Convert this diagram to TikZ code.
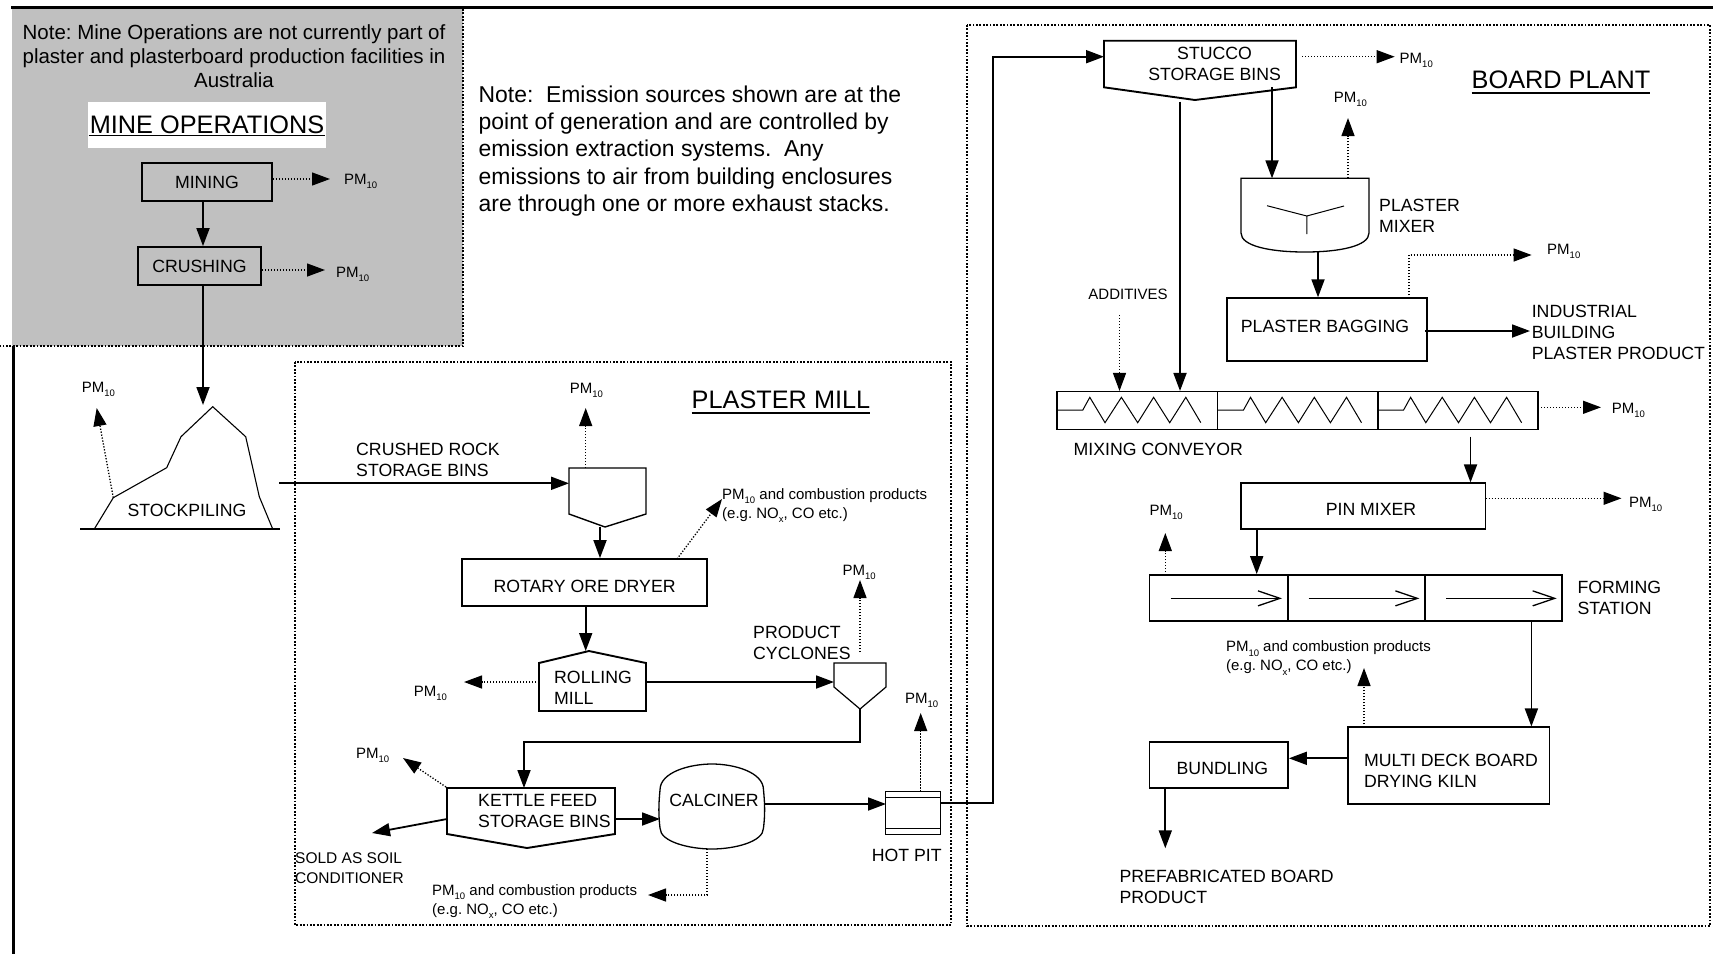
\documentclass[tikz,border=0pt]{standalone}
\usepackage{fontspec}
\setmainfont{Liberation Sans}
\usetikzlibrary{arrows.meta,calc}
\definecolor{mgray}{HTML}{C0C0C0}
\frenchspacing
\newcommand{\fsBox}{\fontsize{17.7}{21}\selectfont}
\newcommand{\fsPM}{\fontsize{15}{18}\selectfont}
\newcommand{\fsSm}{\fontsize{15}{19}\selectfont}
\newcommand{\fsSold}{\fontsize{15.5}{20}\selectfont}
\newcommand{\fsTitle}{\fontsize{25.3}{30}\selectfont}
\newcommand{\fsNoteA}{\fontsize{20.5}{24.2}\selectfont}
\newcommand{\fsNoteB}{\fontsize{22.9}{27.3}\selectfont}
\newcommand{\pmt}{PM\raisebox{-0.28em}{\fontsize{9.5}{9.5}\selectfont 10}}
\newcommand{\nox}{NO\raisebox{-0.28em}{\fontsize{9.5}{9.5}\selectfont x}}
\begin{document}
\begin{tikzpicture}[x=1pt,y=-1pt,
  lbl/.style={inner sep=0pt, font=\fsBox},
  box/.style={draw, line width=1.8pt, inner sep=0pt, font=\fsBox, align=center},
  shp/.style={line width=1.4pt, line join=miter},
  thk/.style={line width=1.9pt, line join=miter},
  arr/.style={line width=1.8pt, -{Triangle[length=18pt,width=13pt]}},
  darr/.style={line width=1.3pt, dash pattern=on 1.3pt off 1.7pt, -{Triangle[length=18pt,width=13pt]}},
  dotframe/.style={line width=1.8pt, dash pattern=on 1.8pt off 1.6pt},
  pm/.style={inner sep=0pt, font=\fsPM, anchor=base west},
  sm/.style={inner sep=0pt, font=\fsSm, align=left, anchor=west},
  barb/.style={line width=1.3pt, -{Straight Barb[length=22pt,width=15pt,line width=1.3pt]}},
]
\useasboundingbox (0,0) rectangle (1713,954);
\fill[white] (0,0) rectangle (1713,954);
% ---------- frames ----------
\fill[mgray] (12,8) rectangle (463,346);
\draw[line width=3pt] (11,7) -- (1713,7);
\draw[line width=3pt] (13,346) -- (13,954);
\draw[dotframe] (463,9) -- (463,346) -- (0,346);
\draw[dotframe] (295,362) rectangle (951,925);
\draw[dotframe] (966.7,25) rectangle (1710,926);

% ---------- mine operations ----------
\node[inner sep=0pt, font=\fsNoteA, align=center] (noteA) at (234,56)
  {Note: Mine Operations are not currently part of\\plaster and plasterboard production facilities in\\Australia};
\node[fill=white, minimum width=238, minimum height=46, inner sep=0pt, font=\fsTitle] (mineT) at (207,125) {MINE OPERATIONS};
\draw[line width=1.6pt] (88.5,135.5) -- (325,135.5);
\node[box, minimum width=130, minimum height=38] (mining) at (207,182) {MINING};
\node[box, minimum width=123, minimum height=38] (crushing) at (199.5,266) {CRUSHING};
\coordinate (cx1) at (203,0);
\draw[arr] (mining.south -| cx1) -- (crushing.north -| cx1);
\coordinate (miT) at (330,179);
\draw[darr] ([yshift=3pt]mining.east) -- (miT);
\node[pm] (pmMin) at (344,184.3) {\pmt};
\coordinate (crT) at (325,270);
\draw[darr] ([yshift=-4pt]crushing.east) -- (crT);
\node[pm] (pmCru) at (336,277.3) {\pmt};

% ---------- note B ----------
\node[inner sep=0pt, font=\fsNoteB, align=left, anchor=north west] (noteB) at (478.5,85.5)
  {Note:\ \ Emission sources shown are at the\\point of generation and are controlled by\\emission extraction systems.\ \ Any\\emissions to air from building enclosures\\are through one or more exhaust stacks.};

% ---------- stockpile ----------
\coordinate (sg1) at (80,529); \coordinate (sg2) at (280,529);
\draw[line width=2pt] (sg1) -- (sg2);
\coordinate (peak) at (212.7,406.7);
\coordinate (spEm) at (113.3,497.7);
\draw[line width=1.1pt] (94.3,529) -- (spEm) -- (166.7,467.7) -- (181,436.7) -- (peak) -- (245.7,436.7) -- (259.3,496.7) -- (272.7,529);
\node[lbl] (stock) at (187,510) {STOCKPILING};
\coordinate (peakIn) at (203,405);
\draw[arr] (crushing.south -| cx1) -- (peakIn);
\coordinate (spT) at (96.7,408);
\draw[darr] (spEm) -- (spT);
\node[pm] (pmStock) at (81.7,392.7) {\pmt};
\coordinate (spOut) at (279,483.3); \coordinate (binIn) at (569,483.3);
\draw[arr] (spOut) -- (binIn);

% ---------- plaster mill ----------
\node[inner sep=0pt, font=\fsTitle] (pmTitle) at (781,400) {PLASTER MILL};
\draw[line width=1.6pt] ([yshift=-4pt]pmTitle.south west) -- ([yshift=-4pt]pmTitle.south east);
% crushed rock bin
\coordinate (bin1) at (569,468); \coordinate (bin2) at (646,468); \coordinate (bin3) at (646,514);
\coordinate (binB) at (605,527); \coordinate (bin4) at (569,514);
\draw[shp] (bin1) -- (bin2) -- (bin3) -- (binB) -- (bin4) -- cycle;
\node[lbl, align=left, anchor=west] (crLbl) at (356,459.5) {CRUSHED ROCK\\STORAGE BINS};
\coordinate (binEm) at (585.7,468); \coordinate (binT) at (585.7,408);
\draw[darr] (binEm) -- (binT);
\node[pm] (pmBin) at (569.7,393) {\pmt};
% dryer
\node[box, minimum width=245, minimum height=47] (dryer) at (584.5,582.5) {};
\node[lbl] (dryTxt) at (584.6,586) {ROTARY ORE DRYER};
\coordinate (cx2) at (600,0);
\draw[arr] (binB -| cx2) -- (dryer.north -| cx2);
\coordinate (dryEm) at (677,559); \coordinate (dryT) at (722,499);
\draw[darr] (dryEm) -- (dryT);
\node[sm] (dryLbl) at (722,505.5) {\pmt{} and combustion products\\(e.g. \nox, CO etc.)};
% rolling mill
\coordinate (rm1) at (539,711); \coordinate (rm2) at (646,711); \coordinate (rm3) at (646,663);
\coordinate (rmTop) at (589,651); \coordinate (rm4) at (539,663);
\draw[thk] (rm1) -- (rm2) -- (rm3) -- (rmTop) -- (rm4) -- cycle;
\node[lbl, align=left, anchor=west] (rmLbl) at (554,688) {ROLLING\\MILL};
\coordinate (cx3) at (585.7,0);
\draw[arr] (dryer.south -| cx3) -- (rmTop -| cx3);
\coordinate (rmEm) at (539,682); \coordinate (rmT) at (464,682);
\draw[darr] (rmEm) -- (rmT);
\node[pm] (pmRm) at (413.6,696.7) {\pmt};
\coordinate (rmOut) at (646,682); \coordinate (cyIn) at (834,682);
\draw[arr] (rmOut) -- (cyIn);
% cyclone
\coordinate (cy1) at (834,663); \coordinate (cy2) at (886,663); \coordinate (cy3) at (886,687);
\coordinate (cyB) at (860,709); \coordinate (cy4) at (834,687);
\draw[line width=1.2pt] (cy1) -- (cy2) -- (cy3) -- (cyB) -- (cy4) -- cycle;
\node[lbl, align=left, anchor=west] (cyLbl) at (753,643) {PRODUCT\\CYCLONES};
\coordinate (cyEm) at (860,652); \coordinate (cyT) at (860,580);
\draw[darr] (cyEm) -- (cyT);
\node[pm] (pmCy) at (842.4,575) {\pmt};
% kettle feed
\coordinate (kt1) at (447,788); \coordinate (kt2) at (615,788); \coordinate (kt3) at (615,834);
\coordinate (ktB) at (527,848); \coordinate (kt4) at (447,834);
\draw[thk] (kt1) -- (kt2) -- (kt3) -- (ktB) -- (kt4) -- cycle;
\node[lbl, align=left, anchor=west] (ktLbl) at (478,810.5) {KETTLE FEED\\STORAGE BINS};
\coordinate (k1) at (860,742); \coordinate (kIn) at (524,788);
\draw[arr] (cyB) -- (k1) -| (kIn);
\coordinate (ktEm) at (446,787); \coordinate (ktT) at (403,758);
\draw[darr] (ktEm) -- (ktT);
\node[pm] (pmKt) at (355.9,758.3) {\pmt};
\coordinate (ktOut) at (447,819); \coordinate (soldT) at (372,833);
\draw[arr] (ktOut) -- (soldT);
\node[sm, font=\fsSold, text depth=0pt] (sold) at (295,868) {SOLD AS SOIL\\CONDITIONER};
% calciner
\coordinate (ktR) at (615,819); \coordinate (calIn) at (660,819);
\draw[arr] (ktR) -- (calIn);
\draw[line width=1.3pt] (660,790) .. controls (660,772) and (690,764) .. (712,764)
  .. controls (734,764) and (763.5,772) .. (763.5,790)
  .. controls (765,805) and (765,815) .. (763.5,828)
  .. controls (763.5,842) and (734,849) .. (712,849)
  .. controls (690,849) and (660,842) .. (660,828)
  .. controls (658.5,815) and (658.5,805) .. (660,790) -- cycle;
\node[lbl] (calLbl) at (714,800.5) {CALCINER};
\coordinate (calEm) at (707,849); \coordinate (calC) at (707,895); \coordinate (calT) at (648,895);
\draw[darr] (calEm) -- (calC) -- (calT);
\node[sm] (calPm) at (432,901.5) {\pmt{} and combustion products\\(e.g. \nox, CO etc.)};
% hot pit
\coordinate (calOut) at (763.5,804); \coordinate (hpIn) at (886,804);
\draw[arr] (calOut) -- (hpIn);
\draw[line width=1.3pt] (885.7,791.7) rectangle (940.7,834.3);
\draw[line width=1.3pt] (885.7,797.7) -- (940.7,797.7) (885.7,828.3) -- (940.7,828.3);
\node[lbl] (hpLbl) at (906.7,855) {HOT PIT};
\coordinate (hpEm) at (920.7,791.7); \coordinate (hpT) at (920.7,713);
\draw[darr] (hpEm) -- (hpT);
\node[pm] (pmHp) at (905,703.3) {\pmt};

% ---------- board plant ----------
\node[inner sep=0pt, font=\fsTitle] (bpTitle) at (1561,80) {BOARD PLANT};
\draw[line width=1.6pt] ([yshift=-4pt]bpTitle.south west) -- ([yshift=-4pt]bpTitle.south east);
% stucco bins
\coordinate (st1) at (1104,40.7); \coordinate (st2) at (1296,40.7); \coordinate (st3) at (1296,87.3);
\coordinate (stB) at (1195,100); \coordinate (st4) at (1104,87.3);
\draw[thk] (st1) -- (st2) -- (st3) -- (stB) -- (st4) -- cycle;
\node[lbl, align=center] (stLbl) at (1214.6,64) {STUCCO\\STORAGE BINS};
\coordinate (hpOut) at (940.7,803.3); \coordinate (r1) at (992.7,803.3);
\coordinate (r2) at (992.7,56.7); \coordinate (stIn) at (1104,56.7);
\draw[arr] (hpOut) -- (r1) -- (r2) -- (stIn);
\coordinate (stEm) at (1302,56.7); \coordinate (stT) at (1394.7,56.7);
\draw[darr] (stEm) -- (stT);
\node[pm] (pmSt) at (1399.5,63.3) {\pmt};
% plaster mixer
\draw[line width=1.3pt] (1241,178.3) -- (1369,178.3) -- (1369,233)
  .. controls (1369,246) and (1340,252) .. (1305,252)
  .. controls (1270,252) and (1241,246) .. (1241,233) -- cycle;
\draw[line width=1pt] (1267,205.7) -- (1306.8,216) -- (1344,206) (1306.8,216) -- (1306.8,234);
\node[lbl, align=left, anchor=west] (mxLbl) at (1379,215.5) {PLASTER\\MIXER};
\coordinate (stA) at (1272,87); \coordinate (mxIn) at (1272,178.3);
\draw[arr] (stA) -- (mxIn);
\coordinate (mxEm) at (1348,178.3); \coordinate (mxT) at (1348,118);
\draw[darr] (mxEm) -- (mxT);
\node[pm] (pmMx) at (1333.7,102.7) {\pmt};
% plaster bagging
\node[box, minimum width=200, minimum height=63] (bag) at (1327,329.7) {};
\node[lbl] (bagTxt) at (1325,326) {PLASTER BAGGING};
\coordinate (mxB) at (1318,252);
\draw[arr] (mxB) -- (bag.north -| mxB);
\coordinate (bgEm) at (1409,298.3); \coordinate (bgC) at (1409,255); \coordinate (bgT) at (1531.6,255);
\draw[darr] (bgEm) -- (bgC) -- (bgT);
\node[pm] (pmBg) at (1547,254) {\pmt};
\coordinate (bgOut) at (1425,331); \coordinate (prIn) at (1530,331);
\draw[arr] (bgOut) -- (prIn);
\node[lbl, align=left, anchor=west] (prLbl) at (1531.6,332.5) {INDUSTRIAL\\BUILDING\\PLASTER PRODUCT};
% additives
\node[inner sep=0pt, font=\fsSm] (add) at (1128,294.5) {ADDITIVES};
% mixing conveyor
\node[draw, line width=1.5pt, inner sep=0pt, minimum width=160.7, minimum height=37.6] (cv1) at (1137.35,410.5) {};
\node[draw, line width=1.5pt, inner sep=0pt, minimum width=160.1, minimum height=37.6] (cv2) at (1297.75,410.5) {};
\node[draw, line width=1.5pt, inner sep=0pt, minimum width=160.2, minimum height=37.6] (cv3) at (1457.9,410.5) {};
\foreach \s in {1057,1217.7,1377.8}{
  \draw[line width=1pt] (\s,410) -- ++(25.8,0) -- ++(7,-12.7) -- ++(15.2,25.4) -- ++(16.4,-25.4) -- ++(16.3,25.4)
     -- ++(15.9,-25.4) -- ++(16.1,25.4) -- ++(16.1,-25.4) -- ++(15,25.4);
}
\node[lbl, anchor=west] (cvLbl) at (1073.5,449) {MIXING CONVEYOR};
\coordinate (adS) at (1119.5,315);
\draw[darr] (adS) -- (cv1.north -| adS);
\coordinate (stBd) at (1180,101.7);
\draw[arr] (stBd) -- (cv1.north -| stBd);
\coordinate (cvEm) at (1538,407.3); \coordinate (cvT) at (1601,407.3);
\draw[darr] (cvEm) -- (cvT);
\node[pm] (pmCv) at (1611.7,413.3) {\pmt};
% pin mixer
\node[box, minimum width=244.5, minimum height=45.7] (pin) at (1363.3,506.2) {};
\node[lbl] (pinTxt) at (1371,509.5) {PIN MIXER};
\coordinate (cvB) at (1470.5,436.7);
\draw[arr] (cvB) -- (pin.north -| cvB);
\coordinate (pinEm) at (1485.5,498.3); \coordinate (pinT) at (1621.5,498.3);
\draw[darr] (pinEm) -- (pinT);
\node[pm] (pmPin) at (1628.8,507.7) {\pmt};
% forming station
\node[box, minimum width=138.2, minimum height=45.7] (fm1) at (1218.5,597.85) {};
\node[box, minimum width=137.4, minimum height=45.7] (fm2) at (1356.3,597.85) {};
\node[box, minimum width=137.3, minimum height=45.7] (fm3) at (1493.65,597.85) {};
\foreach \c in {fm1,fm2,fm3}{
  \draw[barb] ([xshift=22pt,yshift=-0.5pt]\c.west) -- ([xshift=-6.5pt,yshift=-0.5pt]\c.east);
}
\coordinate (fx) at (1256.7,0);
\draw[arr] (pin.south -| fx) -- (fm1.north -| fx);
\node[lbl, align=left, anchor=west] (fmLbl) at (1577.3,597.5) {FORMING\\STATION};
\coordinate (fmEm) at (1165.3,575); \coordinate (fmT) at (1165.3,533);
\draw[darr] (fmEm) -- (fmT);
\node[pm] (pmFm) at (1149.4,515) {\pmt};
\node[sm] (fmPm) at (1225.8,658) {\pmt{} and combustion products\\(e.g. \nox, CO etc.)};
% kiln
\node[box, minimum width=201.4, minimum height=76.7] (kiln) at (1448.7,765.7) {};
\node[lbl, align=left, anchor=west] (kilnTxt) at (1364,771) {MULTI DECK BOARD\\DRYING KILN};
\coordinate (klEm) at (1364,727.3); \coordinate (klT) at (1364,668);
\draw[darr] (klEm) -- (klT);
\coordinate (fmOut) at (1531.4,620.7);
\draw[arr] (fmOut) -- (kiln.north -| fmOut);
% bundling
\node[box, minimum width=138.6, minimum height=46] (bund) at (1218.7,765.3) {};
\node[lbl] (bundTxt) at (1222.4,768.5) {BUNDLING};
\coordinate (kbY) at (0,758.3);
\draw[arr] (kiln.west |- kbY) -- (bund.east |- kbY);
\coordinate (bx) at (1165.3,0); \coordinate (pfT) at (1165.3,848.3);
\draw[arr] (bund.south -| bx) -- (pfT);
\node[lbl, align=left, anchor=west] (pfLbl) at (1119.4,887) {PREFABRICATED BOARD\\PRODUCT};
\end{tikzpicture}
\end{document}
